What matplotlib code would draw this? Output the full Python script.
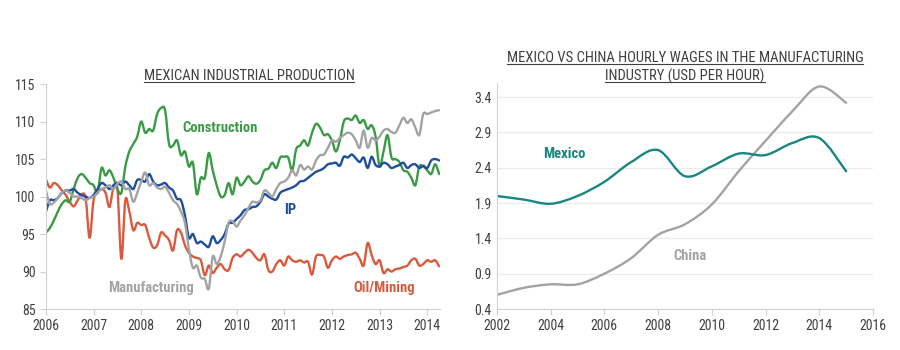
import numpy as np
import matplotlib
matplotlib.use('Agg')
from matplotlib import pyplot as plt
from matplotlib.path import Path
from matplotlib.patches import PathPatch
from matplotlib.lines import Line2D

plt.rcParams['font.family'] = ['Roboto Condensed', 'Roboto', 'DejaVu Sans']

# ---- left chart: Mexican industrial production, monthly Jan 2006 - Apr 2014
months = 2006 + np.arange(100) / 12.0

ip = [98, 99.5, 99.5, 99.8, 100.5, 100.8, 100.8, 101, 100.5, 100.2, 100, 99.8,
      100.2, 101, 101.8, 101.5, 101, 101.5, 101.8, 101.5, 102, 101.5, 101, 102.2,
      102.2, 102, 103, 102, 101.5, 101.6, 101.8, 101.2, 100.8, 99.7, 99.5, 97.5,
      94.5, 95, 93.8, 94, 93.6, 93.3, 94.7, 93.8, 94.2, 95, 96.4, 96.5,
      97, 97.5, 98.2, 98.3, 98.6, 98.7, 99.3, 100.3, 100, 99.7, 99.6, 100.5,
      100.8, 101, 101.2, 101.5, 102, 102.1, 102.5, 102.9, 103.3, 103.5, 103.8, 104.3,
      104.4, 104.5, 104.1, 105.3, 105.2, 105.6, 105.1, 104.6, 105.2, 103.8, 105.3, 104.2,
      104, 104.5, 104.3, 103.8, 104, 104.2, 104.5, 103.8, 104.2, 104.3, 103.8, 104.1,
      103.8, 104.8, 105, 104.8]

construction = [95.2, 95.8, 96.8, 98, 99, 99.5, 99.3, 101, 102.5, 103, 102.5, 101.8,
                101.5, 100.5, 103.8, 102.8, 103.5, 102.5, 101, 100.5, 104, 106, 107, 108,
                110, 108.5, 109, 108.8, 111, 111.8, 111.5, 107, 106.8, 107.5, 105.5, 106,
                104, 104.5, 100.3, 102.5, 102.5, 105.8, 103.5, 101.5, 100, 100.2, 101.8, 100.3,
                102.5, 101.5, 102, 102.7, 102, 101.7, 102.2, 103.5, 103.7, 104.5, 103.8, 105.2,
                105.3, 105.2, 103.5, 106.3, 106.8, 107.5, 106.8, 108.5, 109.7, 109.2, 108.2, 108.3,
                107.5, 106, 107.5, 110, 110.4, 110.2, 110.8, 109.8, 110.2, 109, 109.5, 108,
                104, 106, 108.2, 105.2, 105, 104.6, 103.5, 103.3, 102.5, 101.5, 104, 104,
                103.5, 103, 104.3, 103]

manufacturing = [100.8, 99, 99.2, 99.8, 100.5, 100.8, 100.5, 100, 100, 99.8, 99.5, 99.8,
                 100, 100.5, 101, 101.2, 101.5, 101, 101.7, 102, 101, 101, 99.3, 100.5,
                 102, 103.2, 101.5, 101.8, 101.2, 101, 101.3, 100.5, 99.5, 99, 98, 96.5,
                 93, 90.5, 90.8, 89.2, 89, 87.7, 92, 91, 92, 94, 96.5, 96.7,
                 96, 96.8, 97.5, 98.5, 99.3, 99.2, 99.5, 100.8, 100.5, 100, 101, 101.8,
                 102, 102.5, 103.5, 102.8, 104.2, 103.6, 104, 103.6, 104.8, 105.5, 105.6, 106.5,
                 107.5, 107.3, 107.8, 108.2, 108.5, 108.3, 107.5, 106.5, 108.8, 106.5, 107.8, 107.5,
                 108, 108.8, 109, 108.6, 108.5, 109.5, 110.5, 109.8, 110.3, 109.2, 108.2, 111,
                 111, 111.2, 111.4, 111.5]

oil_mining = [102.3, 101.2, 101.8, 101.5, 100.8, 100.2, 99.3, 98.7, 99.5, 100.3, 99.8, 94.5,
              99.5, 100.5, 101, 100.5, 98.6, 101.2, 101, 91.7, 99.5, 98, 95.5, 96.5,
              96.2, 96.2, 94.5, 93.2, 93.5, 95.2, 94.8, 94.2, 92.8, 95.5, 95.2, 93.5,
              92.5, 92, 91.8, 91.5, 89.5, 90.8, 89.8, 90.5, 91, 90.3, 90.2, 91.8,
              92.3, 92, 92.5, 92.9, 92.5, 91.8, 91.5, 92.3, 90.2, 90, 91, 91.5,
              90.8, 92, 91.5, 91.3, 91.5, 91.2, 91.3, 89.6, 92, 92.2, 92, 90.5,
              91.5, 92, 91.7, 92, 92.2, 92.3, 92.5, 91.7, 90.8, 93.8, 92.2, 91,
              91.5, 89.8, 90.3, 90, 90.3, 90.4, 90.6, 90.8, 91.5, 91.7, 90.8, 91,
              91.5, 91.3, 91.5, 90.7]

# ---- right chart: hourly wages, USD per hour
years = [2002, 2003, 2004, 2005, 2006, 2007, 2008, 2009, 2010, 2011, 2012, 2013, 2014, 2015]
mexico = [2.0, 1.95, 1.89, 2.0, 2.2, 2.48, 2.65, 2.28, 2.42, 2.6, 2.58, 2.75, 2.82, 2.35]
china = [0.6, 0.7, 0.75, 0.75, 0.9, 1.12, 1.45, 1.6, 1.88, 2.35, 2.78, 3.2, 3.55, 3.32]

GREEN = '#3b9a45'
BLUE = '#1f4f9c'
GRAY = '#a3a3a3'
ORANGE = '#d95a3e'
TEAL = '#17877f'
AXIS = '#d0d0d0'
TXT = '#404040'


def smooth_line(ax, x, y, color, lw=1.7):
    # excel style smoothed line: bezier segments through the data points
    x = np.asarray(x, float)
    y = np.asarray(y, float)
    pts = np.column_stack([x, y])
    verts = [pts[0]]
    codes = [Path.MOVETO]
    n = len(pts)
    for i in range(n - 1):
        p0 = pts[max(i - 1, 0)]
        p1 = pts[i]
        p2 = pts[i + 1]
        p3 = pts[min(i + 2, n - 1)]
        verts += [p1 + (p2 - p0) / 6.0, p2 - (p3 - p1) / 6.0, p2]
        codes += [Path.CURVE4] * 3
    ax.add_patch(PathPatch(Path(verts, codes), fill=False, edgecolor=color,
                           lw=lw, capstyle='round', joinstyle='round'))


def style_axes(ax):
    for s in ['top', 'right']:
        ax.spines[s].set_visible(False)
    for s in ['left', 'bottom']:
        ax.spines[s].set_color(AXIS)
    ax.tick_params(colors=AXIS, labelcolor=TXT, labelsize=10, length=4, width=0.8)


fig = plt.figure(figsize=(9, 3.5), dpi=100)

# left panel
ax1 = fig.add_axes([0.051, 0.117, 0.438, 0.643])
smooth_line(ax1, months, oil_mining, ORANGE)
smooth_line(ax1, months, construction, GREEN)
smooth_line(ax1, months, ip, BLUE)
smooth_line(ax1, months, manufacturing, GRAY)
ax1.set_xlim(2006, 2014.27)
ax1.set_ylim(85, 115)
ax1.set_xticks(range(2006, 2015))
ax1.set_yticks(range(85, 116, 5))
style_axes(ax1)

ax1.text(2009.65, 109.2, 'Construction', color=GREEN, fontsize=10.5, fontweight='bold', ha='center', va='center')
ax1.text(2011.13, 98.2, 'IP', color=BLUE, fontsize=10.5, fontweight='bold', ha='center', va='center')
ax1.text(2008.2, 87.8, 'Manufacturing', color=GRAY, fontsize=10.5, fontweight='bold', ha='center', va='center')
ax1.text(2013.1, 87.8, 'Oil/Mining', color=ORANGE, fontsize=10.5, fontweight='bold', ha='center', va='center')

# right panel
ax2 = fig.add_axes([0.552, 0.117, 0.418, 0.646])
ax2.set_xlim(2002, 2016)
ax2.set_ylim(0.4, 3.6)
ax2.set_xticks(range(2002, 2017, 2))
ax2.set_yticks(np.arange(0.4, 3.5, 0.5))
ax2.set_yticklabels(['0.4', '0.9', '1.4', '1.9', '2.4', '2.9', '3.4'])
ax2.grid(axis='y', color='#ebebeb', lw=0.9)
ax2.set_axisbelow(True)
style_axes(ax2)
ax2.tick_params(axis='y', length=0)
smooth_line(ax2, years, china, GRAY)
smooth_line(ax2, years, mexico, TEAL)
ax2.text(2004.5, 2.6, 'Mexico', color=TEAL, fontsize=10.5, fontweight='bold', ha='center', va='center')
ax2.text(2009.2, 1.15, 'China', color=GRAY, fontsize=10.5, fontweight='bold', ha='center', va='center')

# titles, underlined
titles = [
    fig.text(249 / 900, 1 - 76 / 350, 'MEXICAN INDUSTRIAL PRODUCTION', fontsize=10.5, color=TXT, ha='center', va='center'),
    fig.text(685 / 900, 1 - 58 / 350, 'MEXICO VS CHINA HOURLY WAGES IN THE MANUFACTURING', fontsize=10.5, color=TXT, ha='center', va='center'),
    fig.text(685 / 900, 1 - 76 / 350, 'INDUSTRY (USD PER HOUR)', fontsize=10.5, color=TXT, ha='center', va='center'),
]
fig.canvas.draw()
r = fig.canvas.get_renderer()
inv = fig.transFigure.inverted()
for t in titles:
    bb = t.get_window_extent(r).transformed(inv)
    fig.add_artist(Line2D([bb.x0, bb.x1], [bb.y0 + 0.004, bb.y0 + 0.004],
                          transform=fig.transFigure, color=TXT, lw=0.8))

fig.savefig('out.png', dpi=100)
